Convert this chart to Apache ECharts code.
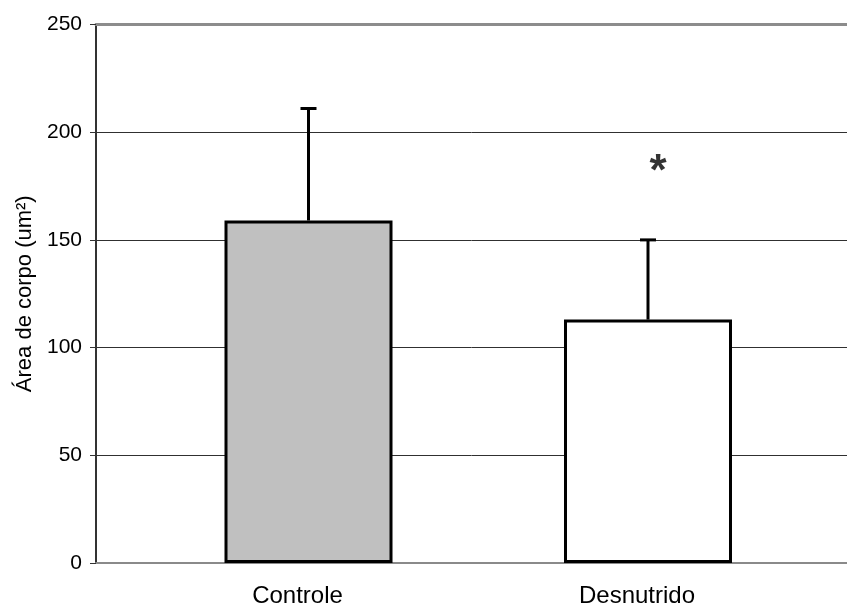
<!DOCTYPE html>
<html>
<head>
<meta charset="utf-8">
<script src="https://cdn.jsdelivr.net/npm/echarts@6/dist/echarts.min.js"></script>
<style>
  html, body { margin: 0; padding: 0; background: #fff; }
  #main { width: 847px; height: 606px; }
</style>
</head>
<body>
<div id="main"></div>
<script>
// dados
var categorias = ['Controle', 'Desnutrido'];
var medias = [159, 113];
var desvios = [52, 37];
var cores = ['#c0c0c0', '#ffffff'];
var asterisco = [null, 181];
var yTicks = [0, 50, 100, 150, 200, 250];

var fonte = "'Liberation Sans', Arial, sans-serif";
var myChart = echarts.init(document.getElementById('main'));

var option = {
    animation: false,
    backgroundColor: '#fff',
    grid: [
        // grade principal: eixo y e linhas de grade
        { left: 96, right: 0, top: 24.5, bottom: 43, outerBoundsMode: 'none' },
        // grade das barras
        { left: 138.75, right: 29.25, top: 24.5, bottom: 43, outerBoundsMode: 'none' }
    ],
    xAxis: [
        {
            gridIndex: 0, type: 'value', min: 0, max: 1,
            axisLine: { show: true, onZero: false, lineStyle: { color: '#8a8a8a', width: 2 } },
            axisTick: { show: false }, axisLabel: { show: false }, splitLine: { show: false }
        },
        {
            gridIndex: 0, type: 'value', position: 'top', min: 0, max: 1,
            axisLine: { show: true, onZero: false, lineStyle: { color: '#8c8c8c', width: 3 } },
            axisTick: { show: false }, axisLabel: { show: false }, splitLine: { show: false }
        },
        {
            gridIndex: 1, type: 'category', data: categorias,
            axisLine: { show: false }, axisTick: { show: false },
            axisLabel: {
                color: '#000', fontFamily: fonte, fontSize: 24, margin: 21,
                padding: [0, 22, 0, 0]
            }
        }
    ],
    yAxis: [
        {
            gridIndex: 0, type: 'value', min: yTicks[0], max: yTicks[yTicks.length - 1], interval: 50,
            name: 'Área de corpo (um²)', nameLocation: 'middle', nameGap: 60, nameRotate: 90,
            nameTextStyle: { color: '#000', fontFamily: fonte, fontSize: 22 },
            axisLine: { show: true, lineStyle: { color: '#333', width: 2 } },
            axisTick: { show: true, length: 6, lineStyle: { color: '#333', width: 1 } },
            axisLabel: { color: '#000', fontFamily: fonte, fontSize: 21, margin: 14 },
            splitLine: { show: true, lineStyle: { color: '#303030', width: 1 } }
        },
        {
            gridIndex: 1, type: 'value', min: yTicks[0], max: yTicks[yTicks.length - 1], interval: 50,
            show: false
        }
    ],
    series: [
        {
            type: 'bar',
            xAxisIndex: 2, yAxisIndex: 1,
            barWidth: 168,
            data: medias.map(function (v, i) {
                return { value: v, itemStyle: { color: cores[i] } };
            }),
            itemStyle: { borderColor: '#000', borderWidth: 3 },
            z: 3
        },
        {
            // barras de erro (só para cima)
            type: 'custom',
            xAxisIndex: 2, yAxisIndex: 1,
            data: medias.map(function (v, i) { return [i, v, v + desvios[i]]; }),
            renderItem: function (params, api) {
                var base = api.coord([api.value(0), api.value(1)]);
                var topo = api.coord([api.value(0), api.value(2)]);
                var estilo = { stroke: '#000', lineWidth: 3 };
                return {
                    type: 'group',
                    children: [
                        { type: 'line', shape: { x1: base[0], y1: base[1], x2: topo[0], y2: topo[1] }, style: estilo },
                        { type: 'line', shape: { x1: topo[0] - 8, y1: topo[1], x2: topo[0] + 8, y2: topo[1] }, style: estilo }
                    ]
                };
            },
            z: 4
        },
        {
            type: 'scatter',
            xAxisIndex: 2, yAxisIndex: 1,
            symbolSize: 0,
            data: asterisco.map(function (v, i) { return v === null ? null : [i, v]; }),
            label: {
                show: true, position: 'inside', formatter: '*', offset: [10, 0],
                color: '#000', fontFamily: fonte, fontWeight: 'bold', fontSize: 44
            },
            z: 5
        }
    ]
};

if (option && typeof option === "object") {
    myChart.setOption(option, true);
}
</script>
</body>
</html>
